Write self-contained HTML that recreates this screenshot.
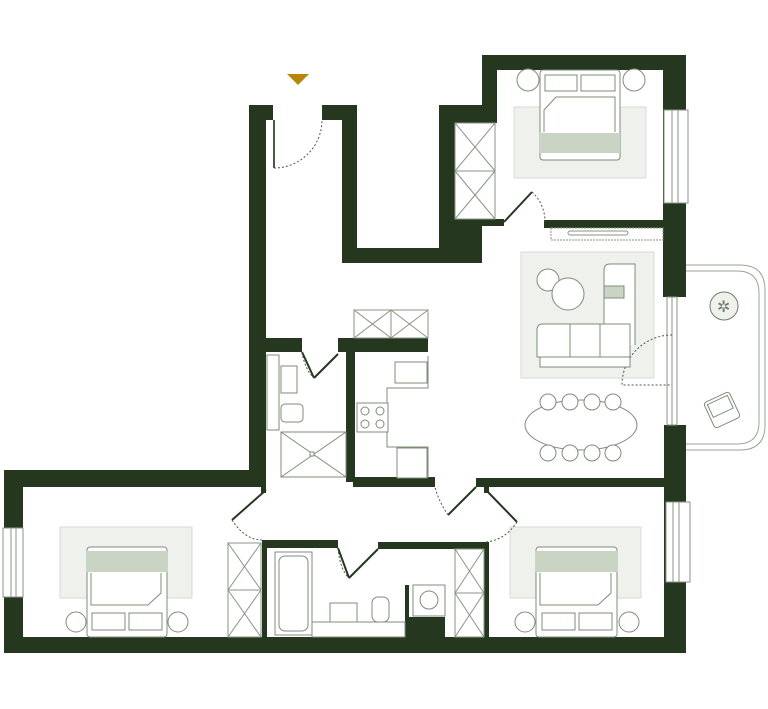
<!DOCTYPE html>
<html><head><meta charset="utf-8"><style>html,body{margin:0;padding:0;background:#fff}svg{display:block}</style></head>
<body>
<svg width="768" height="709" viewBox="0 0 768 709" xmlns="http://www.w3.org/2000/svg">
<g fill="#eef1ec" stroke="#d6dcd3" stroke-width="1">
 <rect x="514" y="107" width="132" height="71"/>
 <rect x="521" y="252" width="133" height="126"/>
 <rect x="60" y="527" width="132" height="71"/>
 <rect x="510" y="527" width="131" height="71"/>
</g>
<!-- balcony -->
<g fill="none" stroke="#9aa596" stroke-width="1">
 <path d="M686 265 H740 Q765 265 765 290 V425 Q765 450 740 450 H686"/>
 <path d="M686 271 H737 Q759 271 759 293 V422 Q759 444 737 444 H686"/>
</g>
<circle cx="724" cy="306" r="14" fill="#eef1ec" stroke="#6f7d6a"/>
<text x="717" y="312" font-family="DejaVu Sans" font-size="16" fill="#6f7d6a">✲</text>
<g transform="rotate(-25 722 410)" fill="#fff" stroke="#7f8c7a"><rect x="708" y="396" width="28" height="28" rx="3"/><rect x="711" y="399" width="22" height="14"/></g>
<!-- walls -->
<g fill="#25381f">
 <rect x="249" y="105" width="17" height="382"/>
 <rect x="249" y="105" width="24" height="15"/>
 <rect x="322" y="105" width="35" height="15"/>
 <rect x="342" y="105" width="15" height="158"/>
 <rect x="342" y="248" width="140" height="15"/>
 <rect x="439" y="105" width="16" height="158"/>
 <rect x="439" y="105" width="58" height="18"/>
 <rect x="482" y="55" width="15" height="68"/>
 <rect x="439" y="219" width="43" height="44"/>
 <rect x="482" y="219" width="22" height="7"/>
 <rect x="482" y="55" width="204" height="15"/>
 <rect x="663" y="55" width="23" height="242"/>
 <rect x="544" y="220" width="119" height="8"/>
 <rect x="664" y="425" width="22" height="228"/>
 <rect x="4" y="470" width="262" height="17"/>
 <rect x="4" y="470" width="19" height="183"/>
 <rect x="4" y="637" width="682" height="16"/>
 <rect x="265" y="338" width="37" height="14"/>
 <rect x="338" y="338" width="90" height="14"/>
 <rect x="346" y="352" width="9" height="130"/>
 <rect x="353" y="477" width="82" height="10"/>
 <rect x="476" y="478" width="188" height="9"/>
 <rect x="262" y="540" width="76" height="8"/>
 <rect x="378" y="542" width="108" height="7"/>
 <rect x="262" y="540" width="5" height="97"/>
 <rect x="484" y="542" width="5" height="95"/>
 <rect x="261" y="487" width="5" height="6"/>
 <rect x="484" y="487" width="5" height="6"/>
 <rect x="405" y="585" width="4" height="52"/>
 <rect x="409" y="617" width="36" height="20"/>
</g>
<!-- windows -->
<g fill="#fff" stroke="#8a9686" stroke-width="1">
 <rect x="664" y="110" width="24" height="93"/><line x1="672" y1="110" x2="672" y2="203"/><line x1="678" y1="110" x2="678" y2="203"/>
 <rect x="667" y="297" width="10" height="128"/><line x1="672" y1="297" x2="672" y2="425"/>
 <rect x="666" y="502" width="24" height="80"/><line x1="673" y1="502" x2="673" y2="582"/><line x1="679" y1="502" x2="679" y2="582"/>
 <rect x="3" y="528" width="20" height="69"/><line x1="11" y1="528" x2="11" y2="597"/><line x1="16" y1="528" x2="16" y2="597"/>
</g>
<!-- entrance -->
<polygon points="287,74 309,74 298,85" fill="#b8860b"/>
<g fill="none" stroke="#4a5a45" stroke-width="1">
 <line x1="274" y1="120" x2="274" y2="168" stroke-width="2"/>
 <path d="M274 168 A48 48 0 0 0 322 120" stroke-dasharray="2 2"/>
 <line x1="504" y1="222" x2="532" y2="192" stroke="#25381f" stroke-width="2"/>
 <path d="M532 192 A40 40 0 0 1 545 222" stroke-dasharray="2 2"/>
 <line x1="302" y1="352" x2="314" y2="378" stroke="#25381f" stroke-width="2"/><line x1="314" y1="378" x2="338" y2="354" stroke="#25381f" stroke-width="2"/>
 <path d="M302 352 Q305 370 314 378" stroke-dasharray="2 2"/>
 <line x1="266" y1="490" x2="232" y2="520" stroke="#25381f" stroke-width="2"/>
 <path d="M232 520 Q245 540 262 540" stroke-dasharray="2 2"/>
 <line x1="486" y1="490" x2="517" y2="522" stroke="#25381f" stroke-width="2"/>
 <path d="M517 522 Q505 540 486 542" stroke-dasharray="2 2"/>
 <line x1="476" y1="487" x2="448" y2="515" stroke="#25381f" stroke-width="2"/>
 <path d="M448 515 Q438 500 435 487" stroke-dasharray="2 2"/>
 <line x1="338" y1="548" x2="349" y2="578" stroke="#25381f" stroke-width="2"/><line x1="349" y1="578" x2="378" y2="549" stroke="#25381f" stroke-width="2"/>
 <path d="M338 548 Q340 570 349 578" stroke-dasharray="2 2"/>
 <path d="M672 335 A50 50 0 0 0 622 385 H672" stroke-dasharray="2 2"/>
</g>
<!-- wardrobes -->
<g fill="#fff" stroke="#8a9686" stroke-width="1">
 <rect x="455" y="123" width="40" height="48"/><path d="M455 123 L495 171 M495 123 L455 171"/>
 <rect x="455" y="171" width="40" height="48"/><path d="M455 171 L495 219 M495 171 L455 219"/>
 <rect x="354" y="310" width="37" height="28"/><path d="M354 310 L391 338 M391 310 L354 338"/>
 <rect x="391" y="310" width="37" height="28"/><path d="M391 310 L428 338 M428 310 L391 338"/>
 <rect x="228" y="543" width="33" height="47"/><path d="M228 543 L261 590 M261 543 L228 590"/>
 <rect x="228" y="590" width="33" height="47"/><path d="M228 590 L261 637 M261 590 L228 637"/>
 <rect x="455" y="549" width="29" height="44"/><path d="M455 549 L484 593 M484 549 L455 593"/>
 <rect x="455" y="593" width="29" height="44"/><path d="M455 593 L484 637 M484 593 L455 637"/>
 <!-- shelf -->
 <rect x="551" y="228" width="112" height="12" stroke-dasharray="2 1"/><rect x="568" y="231" width="60" height="4" rx="2"/>
</g>
<!-- beds -->
<g fill="#fff" stroke="#7f8c7a" stroke-width="1">
 <rect x="540" y="70" width="80" height="90" rx="3"/>
 <rect x="545" y="75" width="32" height="16"/><rect x="581" y="75" width="34" height="16"/>
 <path d="M544 132 V110 L556 97 H615 V132"/>
 <rect x="539" y="133" width="81" height="20" fill="#c9d4c5" stroke="none"/>
 <circle cx="528" cy="80" r="11"/><circle cx="634" cy="80" r="11"/>
 <rect x="87" y="547" width="80" height="90" rx="3"/>
 <rect x="86" y="551" width="82" height="21" fill="#c9d4c5" stroke="none"/>
 <rect x="92" y="613" width="33" height="17"/><rect x="129" y="613" width="33" height="17"/>
 <path d="M91 573 V605 H148 L161 593 V573"/>
 <circle cx="76" cy="622" r="10"/><circle cx="178" cy="622" r="10"/>
 <rect x="536" y="547" width="81" height="90" rx="3"/>
 <rect x="535" y="551" width="83" height="21" fill="#c9d4c5" stroke="none"/>
 <rect x="542" y="613" width="33" height="17"/><rect x="579" y="613" width="33" height="17"/>
 <path d="M540 573 V605 H598 L611 593 V573"/>
 <circle cx="525" cy="622" r="10"/><circle cx="629" cy="622" r="10"/>
 <!-- living -->
 <circle cx="548" cy="280" r="11"/><circle cx="568" cy="294" r="16"/>
 <path d="M604 345 V270 Q604 264 610 264 H635 V345"/>
 <rect x="604" y="286" width="20" height="12" fill="#c9d4c5"/>
 <path d="M537 357 V330 Q537 324 543 324 H630 V357 Z"/>
 <line x1="570" y1="324" x2="570" y2="357"/><line x1="600" y1="324" x2="600" y2="357"/>
 <rect x="540" y="357" width="90" height="10"/>
 <ellipse cx="581" cy="425" rx="56" ry="25"/>
 <rect x="540" y="394" width="16" height="16" rx="8"/><rect x="562" y="394" width="16" height="16" rx="8"/><rect x="584" y="394" width="16" height="16" rx="8"/><rect x="605" y="394" width="16" height="16" rx="8"/>
 <rect x="540" y="445" width="16" height="16" rx="8"/><rect x="562" y="445" width="16" height="16" rx="8"/><rect x="584" y="445" width="16" height="16" rx="8"/><rect x="605" y="445" width="16" height="16" rx="8"/>
 <!-- wc -->
 <rect x="267" y="355" width="12" height="75"/>
 <rect x="281" y="366" width="16" height="27"/>
 <rect x="281" y="404" width="22" height="18" rx="4"/>
 <rect x="281" y="432" width="65" height="45"/><path d="M281 432 L346 477 M346 432 L281 477"/>
 <rect x="310" y="452" width="4" height="4"/>
 <!-- kitchen -->
 <path d="M428 356 V388 H387 V447 H428 V478"/>
 <rect x="395" y="362" width="32" height="21"/>
 <rect x="357" y="403" width="31" height="29"/>
 <circle cx="365" cy="411" r="4"/><circle cx="380" cy="411" r="4"/><circle cx="365" cy="424" r="4"/><circle cx="380" cy="424" r="4"/>
 <rect x="397" y="448" width="30" height="30"/>
 <!-- bath -->
 <rect x="275" y="552" width="37" height="83"/><rect x="279" y="556" width="29" height="75" rx="6"/>
 <rect x="312" y="622" width="93" height="15"/>
 <rect x="330" y="603" width="27" height="19"/>
 <rect x="372" y="597" width="17" height="25" rx="6"/>
 <rect x="413" y="585" width="32" height="31"/><circle cx="429" cy="600" r="9"/>
</g>
</svg>
</body></html>
